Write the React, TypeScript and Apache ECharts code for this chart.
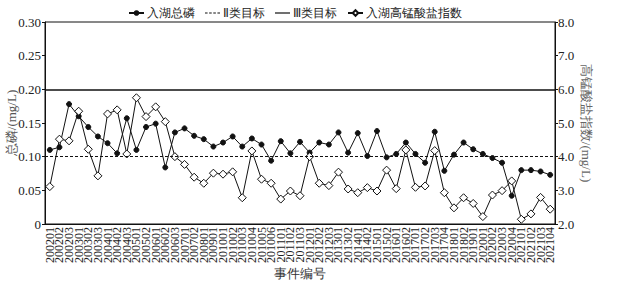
import React, { useEffect, useRef } from "react";
import * as echarts from "echarts";

const categories = [
  "200201", "200202", "200203", "200301", "200302", "200303", "200401", "200402", "200403", "200501",
  "200502", "200601", "200602", "200603", "200701", "200702", "200801", "200901", "201001", "201002",
  "201003", "201004", "201005", "201006", "201101", "201102", "201103", "201201", "201202", "201203",
  "201301", "201302", "201401", "201402", "201501", "201502", "201601", "201602", "201701", "201702",
  "201703", "201704", "201801", "201802", "201901", "202001", "202002", "202003", "202004", "202101",
  "202102", "202103", "202104",
];

const totalP = [
  0.110, 0.114, 0.178, 0.160, 0.144, 0.130, 0.120, 0.105, 0.157, 0.110,
  0.144, 0.149, 0.084, 0.136, 0.142, 0.131, 0.126, 0.115, 0.121, 0.130,
  0.115, 0.127, 0.118, 0.094, 0.123, 0.105, 0.122, 0.106, 0.121, 0.118,
  0.136, 0.106, 0.135, 0.101, 0.138, 0.099, 0.104, 0.121, 0.104, 0.091,
  0.137, 0.079, 0.103, 0.121, 0.111, 0.104, 0.098, 0.091, 0.042, 0.080,
  0.080, 0.078, 0.073,
];

const codMn = [
  3.11, 4.52, 4.47, 5.35, 4.22, 3.43, 5.27, 5.39, 4.08, 5.75,
  5.19, 5.48, 5.04, 4.00, 3.77, 3.39, 3.21, 3.51, 3.48, 3.55,
  2.78, 4.17, 3.33, 3.21, 2.74, 2.98, 2.84, 4.00, 3.21, 3.14,
  3.54, 3.04, 2.93, 3.08, 2.98, 3.60, 3.05, 4.20, 3.09, 3.13,
  4.18, 2.93, 2.48, 2.78, 2.61, 2.22, 2.86, 2.99, 3.28, 2.14,
  2.30, 2.79, 2.44,
];

const class2Target = 0.1;
const class3Target = 0.2;

const leftTicks = { min: 0, max: 0.3, interval: 0.05 };
const rightTicks = { min: 2, max: 8, interval: 1 };

const FONT = "Liberation Serif";

const DASH_ICON = "path://M0,0h2.5v1h-2.5z M4,0h2.5v1h-2.5z M8,0h2.5v1h-2.5z M12,0h2.5v1h-2.5z";
const SOLID_ICON = "path://M0,0h15v1.2h-15z";

export default function App() {
  const ref = useRef<HTMLDivElement>(null);
  useEffect(() => {
    if (!ref.current) return;
    const chart = echarts.init(ref.current, undefined, { renderer: "svg" });
    chart.setOption({
      animation: false,
      textStyle: { fontFamily: FONT, color: "#222" },
      legend: {
        top: 2,
        left: 123,
        itemWidth: 15,
        itemHeight: 7,
        itemGap: 10,
        textStyle: { fontFamily: FONT, fontSize: 12, color: "#222", padding: [0, 0, 0, -2] },
        data: [
          { name: "入湖总磷" },
          { name: "Ⅱ类目标", icon: DASH_ICON },
          { name: "Ⅲ类目标", icon: SOLID_ICON },
          { name: "入湖高锰酸盐指数" },
        ],
      },
      grid: {
        left: 45,
        right: 67,
        top: 22,
        bottom: 60,
        outerBoundsMode: "none",
        containLabel: false,
        show: true,
        borderColor: "#111",
        borderWidth: 1,
      },
      xAxis: {
        type: "category",
        data: categories,
        boundaryGap: true,
        name: "事件编号",
        nameLocation: "middle",
        nameGap: 43,
        nameMoveOverlap: false,
        nameTextStyle: { fontFamily: FONT, fontSize: 13, color: "#333" },
        axisLine: { lineStyle: { color: "#111", width: 1 } },
        axisTick: { inside: true, length: 4, lineStyle: { color: "#111" } },
        axisLabel: {
          interval: 0,
          rotate: 90,
          fontSize: 12,
          fontFamily: FONT,
          color: "#222",
          margin: 3,
        },
        splitLine: { show: false },
      },
      yAxis: [
        {
          type: "value",
          min: leftTicks.min,
          max: leftTicks.max,
          interval: leftTicks.interval,
          name: "总磷/(mg/L)",
          nameLocation: "middle",
          nameGap: 27,
          nameMoveOverlap: false,
          nameRotate: 90,
          nameTextStyle: { fontFamily: FONT, fontSize: 13, color: "#555" },
          axisLine: { show: true, lineStyle: { color: "#111" } },
          axisTick: { show: true, length: 3, lineStyle: { color: "#111" } },
          axisLabel: {
            fontSize: 13,
            fontFamily: FONT,
            color: "#222",
            margin: 4,
            formatter: (v: number) => (v === 0 ? "0" : v.toFixed(2)),
          },
          splitLine: { show: false },
        },
        {
          type: "value",
          min: rightTicks.min,
          max: rightTicks.max,
          interval: rightTicks.interval,
          position: "right",
          name: "高锰酸盐指数/(mg/L)",
          nameLocation: "middle",
          nameGap: 25,
          nameMoveOverlap: false,
          nameRotate: -90,
          nameTextStyle: { fontFamily: FONT, fontSize: 13, color: "#666" },
          axisLine: { show: true, lineStyle: { color: "#111" } },
          axisTick: { show: true, length: 3, lineStyle: { color: "#111" } },
          axisLabel: {
            fontSize: 13,
            fontFamily: FONT,
            color: "#222",
            margin: 3,
            formatter: (v: number) => v.toFixed(1),
          },
          splitLine: { show: false },
        },
      ],
      series: [
        {
          name: "入湖总磷",
          type: "line",
          yAxisIndex: 0,
          data: totalP,
          symbol: "circle",
          symbolSize: 5,
          itemStyle: { color: "#111", borderColor: "#111" },
          lineStyle: { color: "#111", width: 1 },
          z: 3,
        },
        {
          name: "Ⅱ类目标",
          type: "line",
          yAxisIndex: 0,
          data: [],
          symbol: "none",
          itemStyle: { color: "#111" },
          lineStyle: { color: "#111", width: 1, type: [3, 2] },
          markLine: {
            silent: true,
            symbol: "none",
            label: { show: false },
            lineStyle: { color: "#111", width: 1, type: [3, 2] },
            data: [{ yAxis: class2Target }],
          },
        },
        {
          name: "Ⅲ类目标",
          type: "line",
          yAxisIndex: 0,
          data: [],
          symbol: "none",
          itemStyle: { color: "#111" },
          lineStyle: { color: "#111", width: 1.5 },
          markLine: {
            silent: true,
            symbol: "none",
            label: { show: false },
            lineStyle: { color: "#111", width: 1.5, type: "solid" },
            data: [{ yAxis: class3Target }],
          },
        },
        {
          name: "入湖高锰酸盐指数",
          type: "line",
          yAxisIndex: 1,
          data: codMn,
          symbol: "diamond",
          symbolSize: 8,
          itemStyle: { color: "#fff", borderColor: "#111", borderWidth: 1 },
          lineStyle: { color: "#111", width: 1 },
          z: 4,
        },
      ],
    });
    return () => chart.dispose();
  }, []);
  return (
    <div
      ref={ref}
      style={{ position: "fixed", left: 0, top: 0, width: 622, height: 284, background: "#fff" }}
    />
  );
}
